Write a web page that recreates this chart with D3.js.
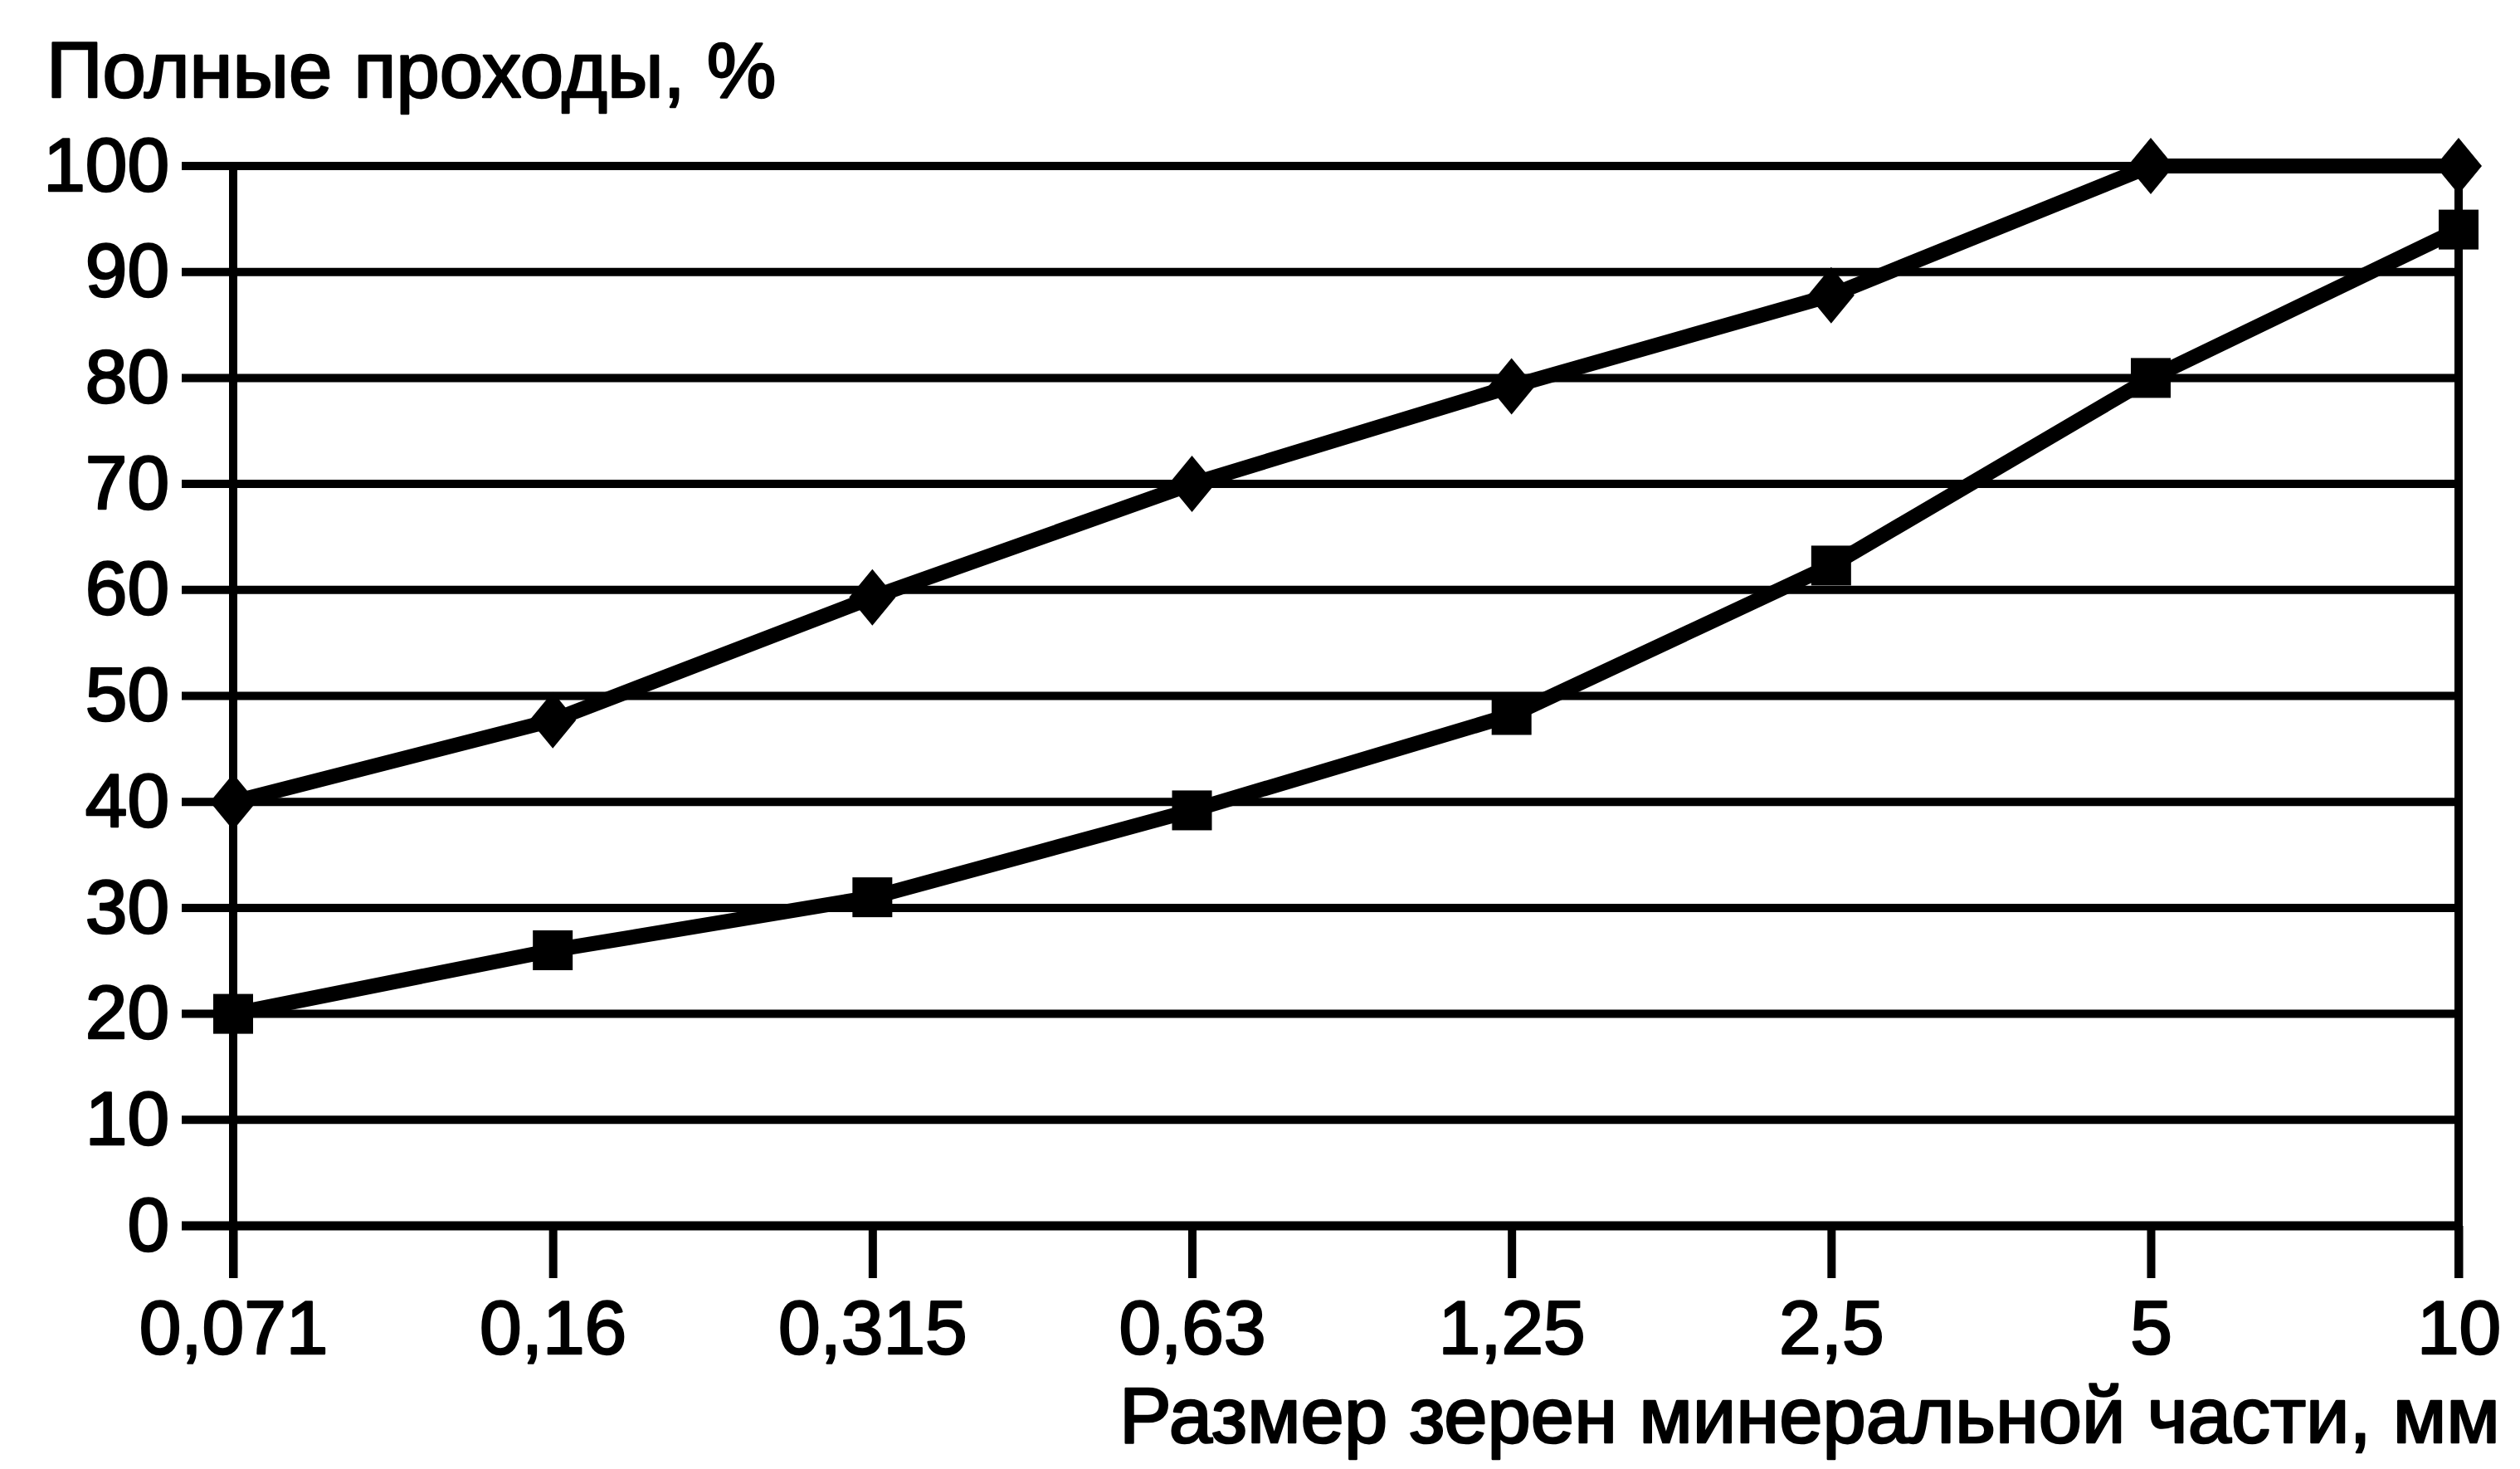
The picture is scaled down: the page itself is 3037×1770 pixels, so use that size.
<!DOCTYPE html>
<html>
<head>
<meta charset="utf-8">
<script src="https://cdn.jsdelivr.net/npm/d3@7"></script>
<style>
  html, body { margin: 0; padding: 0; background: #fff; }
  svg { display: block; }
  text { font-family: "Liberation Sans", Arial, sans-serif; fill: #000; }
</style>
</head>
<body>
<div id="chart"></div>
<script>
// Размер зерен, мм (подписи оси X)
const categories = ["0,071", "0,16", "0,315", "0,63", "1,25", "2,5", "5", "10"];
// Верхняя кривая (ромбы)
const upperValues = [40, 47.7, 59.3, 70, 79.2, 87.8, 100, 100];
// Нижняя кривая (квадраты)
const lowerValues = [20, 26, 31, 39.2, 48.2, 62.3, 80, 94];
// Деления оси Y
const yTicks = [0, 10, 20, 30, 40, 50, 60, 70, 80, 90, 100];

const yTitle = "Полные проходы, %";
const xTitle = "Размер зерен минеральной части, мм";

const width = 3037, height = 1770;
const plotLeft = 281, plotRight = 2963, plotTop = 200, plotBottom = 1477;

const svg = d3.select("#chart").append("svg")
  .attr("width", width)
  .attr("height", height);

// Шаг между делениями одинаковый, последний интервал короче
const xIndex = d3.scaleLinear()
  .domain([0, 6, 7])
  .range([plotLeft, 2592, plotRight]);

const x = d3.scaleOrdinal()
  .domain(categories)
  .range(categories.map((c, i) => xIndex(i)));

const y = d3.scaleLinear()
  .domain([0, 100])
  .range([plotBottom, plotTop]);

function styleText(sel, size) {
  sel.style("font-size", size + "px")
    .style("font-family", "Liberation Sans, Arial, sans-serif")
    .attr("fill", "#000")
    .attr("stroke", "#000")
    .attr("stroke-width", 2.5)
    .attr("stroke-linejoin", "round");
}

// Горизонтальные линии сетки (с выступом влево)
svg.append("g")
  .selectAll("line")
  .data(yTicks)
  .enter()
  .append("line")
  .attr("x1", plotLeft - 62)
  .attr("x2", plotRight)
  .attr("y1", d => y(d))
  .attr("y2", d => y(d))
  .attr("stroke", "#000")
  .attr("stroke-width", d => d === 0 ? 11 : 10);

// Подписи оси Y
const yAxis = svg.append("g")
  .attr("transform", `translate(${plotLeft},0)`)
  .call(d3.axisLeft(y).tickValues(yTicks).tickSize(0).tickPadding(77));
yAxis.select(".domain").remove();
yAxis.selectAll("text").call(styleText, 91);

// Ось X: деления вниз и подписи
const xAxis = svg.append("g")
  .attr("transform", `translate(0,${plotBottom})`)
  .call(d3.axisBottom(x).tickSize(63).tickPadding(26));
xAxis.select(".domain").remove();
xAxis.selectAll(".tick line")
  .attr("stroke", "#000")
  .attr("stroke-width", 10);
xAxis.selectAll("text").call(styleText, 91);

// Вертикальные оси слева и справа
svg.append("g")
  .selectAll("line")
  .data([categories[0], categories[categories.length - 1]])
  .enter()
  .append("line")
  .attr("x1", d => x(d))
  .attr("x2", d => x(d))
  .attr("y1", plotTop)
  .attr("y2", plotBottom + 63)
  .attr("stroke", "#000")
  .attr("stroke-width", 10);

// Линии данных
const line = d3.line()
  .x((d, i) => x(categories[i]))
  .y(d => y(d));

[upperValues, lowerValues].forEach(values => {
  svg.append("path")
    .datum(values)
    .attr("d", line)
    .attr("fill", "none")
    .attr("stroke", "#000")
    .attr("stroke-width", 18)
    .attr("stroke-linejoin", "round");
});

// Маркеры: ромбы
svg.append("g")
  .selectAll("path")
  .data(upperValues)
  .enter()
  .append("path")
  .attr("d", "M0,-34 L28,0 L0,34 L-28,0 Z")
  .attr("transform", (d, i) => `translate(${x(categories[i])},${y(d)})`)
  .attr("fill", "#000");

// Маркеры: квадраты
svg.append("g")
  .selectAll("rect")
  .data(lowerValues)
  .enter()
  .append("rect")
  .attr("x", (d, i) => x(categories[i]) - 24)
  .attr("y", d => y(d) - 24)
  .attr("width", 48)
  .attr("height", 48)
  .attr("fill", "#000");

// Заголовки осей
svg.append("text")
  .attr("x", 56)
  .attr("y", 117)
  .text(yTitle)
  .call(styleText, 94);

svg.append("text")
  .attr("x", 3013)
  .attr("y", 1738)
  .attr("text-anchor", "end")
  .text(xTitle)
  .call(styleText, 94);
</script>
</body>
</html>
